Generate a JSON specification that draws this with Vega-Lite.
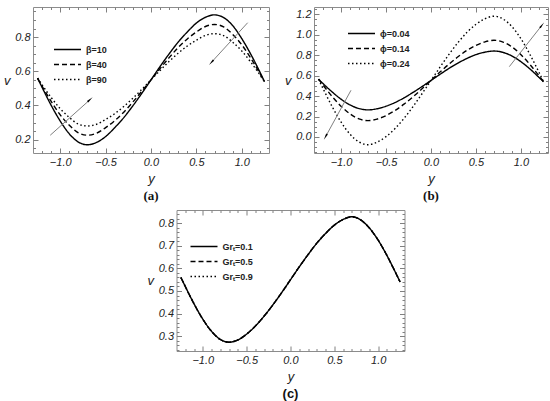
{
  "$schema": "https://vega.github.io/schema/vega-lite/v6.json",
  "padding": {"left": 3, "top": 6, "right": 0, "bottom": 0},
  "background": "white",
  "config": {
    "view": {"stroke": "#8c8c8c", "strokeWidth": 1},
    "axis": {
      "grid": false, "domain": false, "tickColor": "#808080", "tickWidth": 1,
      "labelFont": "Liberation Sans", "labelFontStyle": "italic", "labelFontSize": 11, "labelColor": "#222",
      "titleFont": "Liberation Sans", "titleFontStyle": "italic", "titleFontWeight": "normal", "titleFontSize": 13, "titleColor": "#222"
    },
    "legend": {
      "symbolType": "stroke", "symbolSize": 729, "symbolStrokeWidth": 1.4, "symbolStrokeColor": "black",
      "labelFont": "Liberation Sans", "labelFontWeight": "bold", "labelFontSize": 9, "labelColor": "#222",
      "labelOffset": 4, "padding": 0, "rowPadding": 0, "clipHeight": 15
    },
    "title": {"font": "Liberation Serif", "fontWeight": "bold", "fontSize": 13, "color": "#111"},
    "line": {"color": "black", "strokeWidth": 1.4}
  },
  "datasets": {
    "a": [
      {"y": -1.25, "v": 0.560, "s": "β=10"}, {"y": -1.2, "v": 0.506, "s": "β=10"}, {"y": -1.1, "v": 0.401, "s": "β=10"}, {"y": -1.0, "v": 0.309, "s": "β=10"}, {"y": -0.9, "v": 0.234, "s": "β=10"}, {"y": -0.8, "v": 0.186, "s": "β=10"}, {"y": -0.7, "v": 0.170, "s": "β=10"}, {"y": -0.6, "v": 0.184, "s": "β=10"}, {"y": -0.5, "v": 0.218, "s": "β=10"}, {"y": -0.4, "v": 0.270, "s": "β=10"}, {"y": -0.3, "v": 0.329, "s": "β=10"}, {"y": -0.2, "v": 0.398, "s": "β=10"}, {"y": -0.1, "v": 0.472, "s": "β=10"}, {"y": 0, "v": 0.550, "s": "β=10"}, {"y": 0.1, "v": 0.628, "s": "β=10"}, {"y": 0.2, "v": 0.702, "s": "β=10"}, {"y": 0.3, "v": 0.771, "s": "β=10"}, {"y": 0.4, "v": 0.830, "s": "β=10"}, {"y": 0.5, "v": 0.882, "s": "β=10"}, {"y": 0.6, "v": 0.916, "s": "β=10"}, {"y": 0.7, "v": 0.930, "s": "β=10"}, {"y": 0.8, "v": 0.914, "s": "β=10"}, {"y": 0.9, "v": 0.867, "s": "β=10"}, {"y": 1.0, "v": 0.791, "s": "β=10"}, {"y": 1.1, "v": 0.699, "s": "β=10"}, {"y": 1.2, "v": 0.595, "s": "β=10"}, {"y": 1.25, "v": 0.540, "s": "β=10"},
      {"y": -1.25, "v": 0.560, "s": "β=40"}, {"y": -1.2, "v": 0.513, "s": "β=40"}, {"y": -1.1, "v": 0.424, "s": "β=40"}, {"y": -1.0, "v": 0.345, "s": "β=40"}, {"y": -0.9, "v": 0.284, "s": "β=40"}, {"y": -0.8, "v": 0.240, "s": "β=40"}, {"y": -0.7, "v": 0.226, "s": "β=40"}, {"y": -0.6, "v": 0.238, "s": "β=40"}, {"y": -0.5, "v": 0.270, "s": "β=40"}, {"y": -0.4, "v": 0.311, "s": "β=40"}, {"y": -0.3, "v": 0.361, "s": "β=40"}, {"y": -0.2, "v": 0.420, "s": "β=40"}, {"y": -0.1, "v": 0.484, "s": "β=40"}, {"y": 0, "v": 0.550, "s": "β=40"}, {"y": 0.1, "v": 0.616, "s": "β=40"}, {"y": 0.2, "v": 0.680, "s": "β=40"}, {"y": 0.3, "v": 0.739, "s": "β=40"}, {"y": 0.4, "v": 0.789, "s": "β=40"}, {"y": 0.5, "v": 0.830, "s": "β=40"}, {"y": 0.6, "v": 0.862, "s": "β=40"}, {"y": 0.7, "v": 0.874, "s": "β=40"}, {"y": 0.8, "v": 0.860, "s": "β=40"}, {"y": 0.9, "v": 0.816, "s": "β=40"}, {"y": 1.0, "v": 0.755, "s": "β=40"}, {"y": 1.1, "v": 0.676, "s": "β=40"}, {"y": 1.2, "v": 0.587, "s": "β=40"}, {"y": 1.25, "v": 0.540, "s": "β=40"},
      {"y": -1.25, "v": 0.560, "s": "β=90"}, {"y": -1.2, "v": 0.521, "s": "β=90"}, {"y": -1.1, "v": 0.447, "s": "β=90"}, {"y": -1.0, "v": 0.381, "s": "β=90"}, {"y": -0.9, "v": 0.330, "s": "β=90"}, {"y": -0.8, "v": 0.291, "s": "β=90"}, {"y": -0.7, "v": 0.280, "s": "β=90"}, {"y": -0.6, "v": 0.290, "s": "β=90"}, {"y": -0.5, "v": 0.318, "s": "β=90"}, {"y": -0.4, "v": 0.352, "s": "β=90"}, {"y": -0.3, "v": 0.394, "s": "β=90"}, {"y": -0.2, "v": 0.442, "s": "β=90"}, {"y": -0.1, "v": 0.495, "s": "β=90"}, {"y": 0, "v": 0.550, "s": "β=90"}, {"y": 0.1, "v": 0.605, "s": "β=90"}, {"y": 0.2, "v": 0.658, "s": "β=90"}, {"y": 0.3, "v": 0.706, "s": "β=90"}, {"y": 0.4, "v": 0.748, "s": "β=90"}, {"y": 0.5, "v": 0.782, "s": "β=90"}, {"y": 0.6, "v": 0.810, "s": "β=90"}, {"y": 0.7, "v": 0.820, "s": "β=90"}, {"y": 0.8, "v": 0.809, "s": "β=90"}, {"y": 0.9, "v": 0.770, "s": "β=90"}, {"y": 1.0, "v": 0.719, "s": "β=90"}, {"y": 1.1, "v": 0.653, "s": "β=90"}, {"y": 1.2, "v": 0.579, "s": "β=90"}, {"y": 1.25, "v": 0.540, "s": "β=90"}
    ],
    "b": [
      {"y": -1.25, "v": 0.566, "s": "ϕ=0.04"}, {"y": -1.2, "v": 0.523, "s": "ϕ=0.04"}, {"y": -1.1, "v": 0.442, "s": "ϕ=0.04"}, {"y": -1.0, "v": 0.370, "s": "ϕ=0.04"}, {"y": -0.9, "v": 0.314, "s": "ϕ=0.04"}, {"y": -0.8, "v": 0.278, "s": "ϕ=0.04"}, {"y": -0.7, "v": 0.265, "s": "ϕ=0.04"}, {"y": -0.6, "v": 0.276, "s": "ϕ=0.04"}, {"y": -0.5, "v": 0.301, "s": "ϕ=0.04"}, {"y": -0.4, "v": 0.337, "s": "ϕ=0.04"}, {"y": -0.3, "v": 0.383, "s": "ϕ=0.04"}, {"y": -0.2, "v": 0.436, "s": "ϕ=0.04"}, {"y": -0.1, "v": 0.493, "s": "ϕ=0.04"}, {"y": 0, "v": 0.553, "s": "ϕ=0.04"}, {"y": 0.1, "v": 0.613, "s": "ϕ=0.04"}, {"y": 0.2, "v": 0.671, "s": "ϕ=0.04"}, {"y": 0.3, "v": 0.723, "s": "ϕ=0.04"}, {"y": 0.4, "v": 0.769, "s": "ϕ=0.04"}, {"y": 0.5, "v": 0.806, "s": "ϕ=0.04"}, {"y": 0.6, "v": 0.830, "s": "ϕ=0.04"}, {"y": 0.7, "v": 0.841, "s": "ϕ=0.04"}, {"y": 0.8, "v": 0.828, "s": "ϕ=0.04"}, {"y": 0.9, "v": 0.792, "s": "ϕ=0.04"}, {"y": 1.0, "v": 0.736, "s": "ϕ=0.04"}, {"y": 1.1, "v": 0.665, "s": "ϕ=0.04"}, {"y": 1.2, "v": 0.583, "s": "ϕ=0.04"}, {"y": 1.25, "v": 0.541, "s": "ϕ=0.04"},
      {"y": -1.25, "v": 0.566, "s": "ϕ=0.14"}, {"y": -1.2, "v": 0.508, "s": "ϕ=0.14"}, {"y": -1.1, "v": 0.398, "s": "ϕ=0.14"}, {"y": -1.0, "v": 0.301, "s": "ϕ=0.14"}, {"y": -0.9, "v": 0.226, "s": "ϕ=0.14"}, {"y": -0.8, "v": 0.177, "s": "ϕ=0.14"}, {"y": -0.7, "v": 0.160, "s": "ϕ=0.14"}, {"y": -0.6, "v": 0.175, "s": "ϕ=0.14"}, {"y": -0.5, "v": 0.209, "s": "ϕ=0.14"}, {"y": -0.4, "v": 0.259, "s": "ϕ=0.14"}, {"y": -0.3, "v": 0.321, "s": "ϕ=0.14"}, {"y": -0.2, "v": 0.393, "s": "ϕ=0.14"}, {"y": -0.1, "v": 0.471, "s": "ϕ=0.14"}, {"y": 0, "v": 0.553, "s": "ϕ=0.14"}, {"y": 0.1, "v": 0.635, "s": "ϕ=0.14"}, {"y": 0.2, "v": 0.713, "s": "ϕ=0.14"}, {"y": 0.3, "v": 0.785, "s": "ϕ=0.14"}, {"y": 0.4, "v": 0.848, "s": "ϕ=0.14"}, {"y": 0.5, "v": 0.897, "s": "ϕ=0.14"}, {"y": 0.6, "v": 0.931, "s": "ϕ=0.14"}, {"y": 0.7, "v": 0.946, "s": "ϕ=0.14"}, {"y": 0.8, "v": 0.929, "s": "ϕ=0.14"}, {"y": 0.9, "v": 0.881, "s": "ϕ=0.14"}, {"y": 1.0, "v": 0.805, "s": "ϕ=0.14"}, {"y": 1.1, "v": 0.708, "s": "ϕ=0.14"}, {"y": 1.2, "v": 0.598, "s": "ϕ=0.14"}, {"y": 1.25, "v": 0.541, "s": "ϕ=0.14"},
      {"y": -1.25, "v": 0.566, "s": "ϕ=0.24"}, {"y": -1.2, "v": 0.475, "s": "ϕ=0.24"}, {"y": -1.1, "v": 0.300, "s": "ϕ=0.24"}, {"y": -1.0, "v": 0.147, "s": "ϕ=0.24"}, {"y": -0.9, "v": 0.027, "s": "ϕ=0.24"}, {"y": -0.8, "v": -0.049, "s": "ϕ=0.24"}, {"y": -0.7, "v": -0.076, "s": "ϕ=0.24"}, {"y": -0.6, "v": -0.051, "s": "ϕ=0.24"}, {"y": -0.5, "v": 0.003, "s": "ϕ=0.24"}, {"y": -0.4, "v": 0.082, "s": "ϕ=0.24"}, {"y": -0.3, "v": 0.182, "s": "ϕ=0.24"}, {"y": -0.2, "v": 0.297, "s": "ϕ=0.24"}, {"y": -0.1, "v": 0.423, "s": "ϕ=0.24"}, {"y": 0, "v": 0.553, "s": "ϕ=0.24"}, {"y": 0.1, "v": 0.683, "s": "ϕ=0.24"}, {"y": 0.2, "v": 0.809, "s": "ϕ=0.24"}, {"y": 0.3, "v": 0.924, "s": "ϕ=0.24"}, {"y": 0.4, "v": 1.024, "s": "ϕ=0.24"}, {"y": 0.5, "v": 1.103, "s": "ϕ=0.24"}, {"y": 0.6, "v": 1.157, "s": "ϕ=0.24"}, {"y": 0.7, "v": 1.182, "s": "ϕ=0.24"}, {"y": 0.8, "v": 1.155, "s": "ϕ=0.24"}, {"y": 0.9, "v": 1.079, "s": "ϕ=0.24"}, {"y": 1.0, "v": 0.960, "s": "ϕ=0.24"}, {"y": 1.1, "v": 0.806, "s": "ϕ=0.24"}, {"y": 1.2, "v": 0.632, "s": "ϕ=0.24"}, {"y": 1.25, "v": 0.541, "s": "ϕ=0.24"}
    ],
    "c": [
      {"y": -1.25, "v": 0.560, "s": "Grₜ=0.1"}, {"y": -1.2, "v": 0.520, "s": "Grₜ=0.1"}, {"y": -1.1, "v": 0.443, "s": "Grₜ=0.1"}, {"y": -1.0, "v": 0.375, "s": "Grₜ=0.1"}, {"y": -0.9, "v": 0.321, "s": "Grₜ=0.1"}, {"y": -0.8, "v": 0.285, "s": "Grₜ=0.1"}, {"y": -0.7, "v": 0.273, "s": "Grₜ=0.1"}, {"y": -0.6, "v": 0.283, "s": "Grₜ=0.1"}, {"y": -0.5, "v": 0.309, "s": "Grₜ=0.1"}, {"y": -0.4, "v": 0.345, "s": "Grₜ=0.1"}, {"y": -0.3, "v": 0.389, "s": "Grₜ=0.1"}, {"y": -0.2, "v": 0.439, "s": "Grₜ=0.1"}, {"y": -0.1, "v": 0.493, "s": "Grₜ=0.1"}, {"y": 0, "v": 0.550, "s": "Grₜ=0.1"}, {"y": 0.1, "v": 0.607, "s": "Grₜ=0.1"}, {"y": 0.2, "v": 0.661, "s": "Grₜ=0.1"}, {"y": 0.3, "v": 0.712, "s": "Grₜ=0.1"}, {"y": 0.4, "v": 0.755, "s": "Grₜ=0.1"}, {"y": 0.5, "v": 0.792, "s": "Grₜ=0.1"}, {"y": 0.6, "v": 0.817, "s": "Grₜ=0.1"}, {"y": 0.7, "v": 0.829, "s": "Grₜ=0.1"}, {"y": 0.8, "v": 0.815, "s": "Grₜ=0.1"}, {"y": 0.9, "v": 0.779, "s": "Grₜ=0.1"}, {"y": 1.0, "v": 0.725, "s": "Grₜ=0.1"}, {"y": 1.1, "v": 0.657, "s": "Grₜ=0.1"}, {"y": 1.2, "v": 0.580, "s": "Grₜ=0.1"}, {"y": 1.25, "v": 0.540, "s": "Grₜ=0.1"},
      {"y": -1.25, "v": 0.560, "s": "Grₜ=0.5"}, {"y": -1.2, "v": 0.520, "s": "Grₜ=0.5"}, {"y": -1.1, "v": 0.443, "s": "Grₜ=0.5"}, {"y": -1.0, "v": 0.375, "s": "Grₜ=0.5"}, {"y": -0.9, "v": 0.321, "s": "Grₜ=0.5"}, {"y": -0.8, "v": 0.285, "s": "Grₜ=0.5"}, {"y": -0.7, "v": 0.273, "s": "Grₜ=0.5"}, {"y": -0.6, "v": 0.283, "s": "Grₜ=0.5"}, {"y": -0.5, "v": 0.309, "s": "Grₜ=0.5"}, {"y": -0.4, "v": 0.345, "s": "Grₜ=0.5"}, {"y": -0.3, "v": 0.389, "s": "Grₜ=0.5"}, {"y": -0.2, "v": 0.439, "s": "Grₜ=0.5"}, {"y": -0.1, "v": 0.493, "s": "Grₜ=0.5"}, {"y": 0, "v": 0.550, "s": "Grₜ=0.5"}, {"y": 0.1, "v": 0.607, "s": "Grₜ=0.5"}, {"y": 0.2, "v": 0.661, "s": "Grₜ=0.5"}, {"y": 0.3, "v": 0.712, "s": "Grₜ=0.5"}, {"y": 0.4, "v": 0.755, "s": "Grₜ=0.5"}, {"y": 0.5, "v": 0.792, "s": "Grₜ=0.5"}, {"y": 0.6, "v": 0.817, "s": "Grₜ=0.5"}, {"y": 0.7, "v": 0.829, "s": "Grₜ=0.5"}, {"y": 0.8, "v": 0.815, "s": "Grₜ=0.5"}, {"y": 0.9, "v": 0.779, "s": "Grₜ=0.5"}, {"y": 1.0, "v": 0.725, "s": "Grₜ=0.5"}, {"y": 1.1, "v": 0.657, "s": "Grₜ=0.5"}, {"y": 1.2, "v": 0.580, "s": "Grₜ=0.5"}, {"y": 1.25, "v": 0.540, "s": "Grₜ=0.5"},
      {"y": -1.25, "v": 0.560, "s": "Grₜ=0.9"}, {"y": -1.2, "v": 0.520, "s": "Grₜ=0.9"}, {"y": -1.1, "v": 0.443, "s": "Grₜ=0.9"}, {"y": -1.0, "v": 0.375, "s": "Grₜ=0.9"}, {"y": -0.9, "v": 0.321, "s": "Grₜ=0.9"}, {"y": -0.8, "v": 0.285, "s": "Grₜ=0.9"}, {"y": -0.7, "v": 0.273, "s": "Grₜ=0.9"}, {"y": -0.6, "v": 0.283, "s": "Grₜ=0.9"}, {"y": -0.5, "v": 0.309, "s": "Grₜ=0.9"}, {"y": -0.4, "v": 0.345, "s": "Grₜ=0.9"}, {"y": -0.3, "v": 0.389, "s": "Grₜ=0.9"}, {"y": -0.2, "v": 0.439, "s": "Grₜ=0.9"}, {"y": -0.1, "v": 0.493, "s": "Grₜ=0.9"}, {"y": 0, "v": 0.550, "s": "Grₜ=0.9"}, {"y": 0.1, "v": 0.607, "s": "Grₜ=0.9"}, {"y": 0.2, "v": 0.661, "s": "Grₜ=0.9"}, {"y": 0.3, "v": 0.712, "s": "Grₜ=0.9"}, {"y": 0.4, "v": 0.755, "s": "Grₜ=0.9"}, {"y": 0.5, "v": 0.792, "s": "Grₜ=0.9"}, {"y": 0.6, "v": 0.817, "s": "Grₜ=0.9"}, {"y": 0.7, "v": 0.829, "s": "Grₜ=0.9"}, {"y": 0.8, "v": 0.815, "s": "Grₜ=0.9"}, {"y": 0.9, "v": 0.779, "s": "Grₜ=0.9"}, {"y": 1.0, "v": 0.725, "s": "Grₜ=0.9"}, {"y": 1.1, "v": 0.657, "s": "Grₜ=0.9"}, {"y": 1.2, "v": 0.580, "s": "Grₜ=0.9"}, {"y": 1.25, "v": 0.540, "s": "Grₜ=0.9"}
    ],
    "arrows_a": [
      {"k": 1, "ya": -1.11, "va": 0.226, "yb": -0.68, "vb": 0.43},
      {"k": 2, "ya": 1.065, "va": 0.884, "yb": 0.672, "vb": 0.656}
    ],
    "arrows_b": [
      {"k": 1, "ya": -0.889, "va": 0.457, "yb": -1.167, "vb": 0.01},
      {"k": 2, "ya": 0.87, "va": 0.688, "yb": 1.226, "vb": 1.086}
    ]
  },
  "center": true,
  "spacing": 5,
  "resolve": {"scale": {"strokeDash": "independent"}, "legend": {"strokeDash": "independent"}},
  "vconcat": [
    {
      "spacing": 14,
      "resolve": {"scale": {"strokeDash": "independent"}, "legend": {"strokeDash": "independent"}},
      "hconcat": [
        {
          "width": 236, "height": 146,
          "title": {"text": "(a)", "orient": "bottom", "offset": 5},
          "data": {"name": "a"},
          "resolve": {"axis": {"x": "independent", "y": "independent"}},
          "layer": [
            {
              "mark": {"type": "line", "interpolate": "monotone"},
              "encoding": {
                "x": {"field": "y", "type": "quantitative", "scale": {"domain": [-1.3, 1.3], "nice": false, "zero": false},
                  "axis": {"orient": "bottom", "values": [-1, -0.5, 0, 0.5, 1], "format": ".1f", "tickSize": -5, "labelPadding": 8, "title": "y", "titlePadding": 5}},
                "y": {"field": "v", "type": "quantitative", "scale": {"domain": [0.122, 0.976], "nice": false, "zero": false},
                  "axis": {"orient": "left", "values": [0.2, 0.4, 0.6, 0.8], "format": ".1f", "tickSize": -5, "labelPadding": 8, "minExtent": 20, "maxExtent": 20, "title": "v", "titleAngle": 0, "titleAlign": "right", "titleBaseline": "middle", "titlePadding": 3}},
                "strokeDash": {"field": "s", "type": "nominal", "scale": {"domain": ["β=10", "β=40", "β=90"], "range": [[1, 0], [5, 3], [1.5, 2.5]]},
                  "legend": {"orient": "none", "legendX": 20, "legendY": 35, "title": null}}
              }
            },
            {
              "mark": {"type": "line", "opacity": 0},
              "encoding": {
                "x": {"field": "y", "type": "quantitative", "axis": {"orient": "top", "labels": false, "title": null, "tickSize": -5, "values": [-1, -0.5, 0, 0.5, 1]}},
                "y": {"field": "v", "type": "quantitative", "axis": {"orient": "right", "labels": false, "title": null, "tickSize": -5, "values": [0.2, 0.4, 0.6, 0.8]}}
              }
            },
            {
              "mark": {"type": "line", "opacity": 0},
              "encoding": {
                "x": {"field": "y", "type": "quantitative", "axis": {"orient": "top", "labels": false, "title": null, "tickSize": -2.5,
                  "values": [-1.2, -1.1, -0.9, -0.8, -0.7, -0.6, -0.4, -0.3, -0.2, -0.1, 0.1, 0.2, 0.3, 0.4, 0.6, 0.7, 0.8, 0.9, 1.1, 1.2]}},
                "y": {"field": "v", "type": "quantitative", "axis": {"orient": "right", "labels": false, "title": null, "tickSize": -2.5,
                  "values": [0.15, 0.25, 0.3, 0.35, 0.45, 0.5, 0.55, 0.65, 0.7, 0.75, 0.85, 0.9, 0.95]}}
              }
            },
            {
              "mark": {"type": "line", "opacity": 0},
              "encoding": {
                "x": {"field": "y", "type": "quantitative", "axis": {"orient": "bottom", "labels": false, "title": null, "tickSize": -2.5,
                  "values": [-1.2, -1.1, -0.9, -0.8, -0.7, -0.6, -0.4, -0.3, -0.2, -0.1, 0.1, 0.2, 0.3, 0.4, 0.6, 0.7, 0.8, 0.9, 1.1, 1.2]}},
                "y": {"field": "v", "type": "quantitative", "axis": {"orient": "left", "labels": false, "title": null, "tickSize": -2.5,
                  "values": [0.15, 0.25, 0.3, 0.35, 0.45, 0.5, 0.55, 0.65, 0.7, 0.75, 0.85, 0.9, 0.95]}}
              }
            },
            {
              "data": {"name": "arrows_a"},
              "mark": {"type": "rule", "color": "#808080", "strokeWidth": 1},
              "encoding": {
                "x": {"field": "ya", "type": "quantitative", "axis": null},
                "y": {"field": "va", "type": "quantitative", "axis": null},
                "x2": {"field": "yb"},
                "y2": {"field": "vb"}
              }
            },
            {
              "data": {"name": "arrows_a"},
              "transform": [{"filter": "datum.k == 1"}],
              "mark": {"type": "point", "shape": "wedge", "filled": true, "color": "black", "opacity": 1, "size": 60, "angle": 48},
              "encoding": {
                "x": {"field": "yb", "type": "quantitative", "axis": null},
                "y": {"field": "vb", "type": "quantitative", "axis": null}
              }
            },
            {
              "data": {"name": "arrows_a"},
              "transform": [{"filter": "datum.k == 2"}],
              "mark": {"type": "point", "shape": "wedge", "filled": true, "color": "black", "opacity": 1, "size": 60, "angle": 222},
              "encoding": {
                "x": {"field": "yb", "type": "quantitative", "axis": null},
                "y": {"field": "vb", "type": "quantitative", "axis": null}
              }
            }
          ]
        },
        {
          "width": 234, "height": 146,
          "title": {"text": "(b)", "orient": "bottom", "offset": 5},
          "data": {"name": "b"},
          "resolve": {"axis": {"x": "independent", "y": "independent"}},
          "layer": [
            {
              "mark": {"type": "line", "interpolate": "monotone"},
              "encoding": {
                "x": {"field": "y", "type": "quantitative", "scale": {"domain": [-1.3, 1.3], "nice": false, "zero": false},
                  "axis": {"orient": "bottom", "values": [-1, -0.5, 0, 0.5, 1], "format": ".1f", "tickSize": -5, "labelPadding": 8, "title": "y", "titlePadding": 5}},
                "y": {"field": "v", "type": "quantitative", "scale": {"domain": [-0.157, 1.272], "nice": false, "zero": false},
                  "axis": {"orient": "left", "values": [0, 0.2, 0.4, 0.6, 0.8, 1, 1.2], "format": ".1f", "tickSize": -5, "labelPadding": 8, "minExtent": 20, "maxExtent": 20, "title": "v", "titleAngle": 0, "titleAlign": "right", "titleBaseline": "middle", "titlePadding": 3}},
                "strokeDash": {"field": "s", "type": "nominal", "scale": {"domain": ["ϕ=0.04", "ϕ=0.14", "ϕ=0.24"], "range": [[1, 0], [5, 3], [1.5, 2.5]]},
                  "legend": {"orient": "none", "legendX": 33, "legendY": 19, "title": null}}
              }
            },
            {
              "mark": {"type": "line", "opacity": 0},
              "encoding": {
                "x": {"field": "y", "type": "quantitative", "axis": {"orient": "top", "labels": false, "title": null, "tickSize": -5, "values": [-1, -0.5, 0, 0.5, 1]}},
                "y": {"field": "v", "type": "quantitative", "axis": {"orient": "right", "labels": false, "title": null, "tickSize": -5, "values": [0, 0.2, 0.4, 0.6, 0.8, 1, 1.2]}}
              }
            },
            {
              "mark": {"type": "line", "opacity": 0},
              "encoding": {
                "x": {"field": "y", "type": "quantitative", "axis": {"orient": "top", "labels": false, "title": null, "tickSize": -2.5,
                  "values": [-1.2, -1.1, -0.9, -0.8, -0.7, -0.6, -0.4, -0.3, -0.2, -0.1, 0.1, 0.2, 0.3, 0.4, 0.6, 0.7, 0.8, 0.9, 1.1, 1.2]}},
                "y": {"field": "v", "type": "quantitative", "axis": {"orient": "right", "labels": false, "title": null, "tickSize": -2.5,
                  "values": [-0.15, -0.1, -0.05, 0.05, 0.1, 0.15, 0.25, 0.3, 0.35, 0.45, 0.5, 0.55, 0.65, 0.7, 0.75, 0.85, 0.9, 0.95, 1.05, 1.1, 1.15, 1.25]}}
              }
            },
            {
              "mark": {"type": "line", "opacity": 0},
              "encoding": {
                "x": {"field": "y", "type": "quantitative", "axis": {"orient": "bottom", "labels": false, "title": null, "tickSize": -2.5,
                  "values": [-1.2, -1.1, -0.9, -0.8, -0.7, -0.6, -0.4, -0.3, -0.2, -0.1, 0.1, 0.2, 0.3, 0.4, 0.6, 0.7, 0.8, 0.9, 1.1, 1.2]}},
                "y": {"field": "v", "type": "quantitative", "axis": {"orient": "left", "labels": false, "title": null, "tickSize": -2.5,
                  "values": [-0.15, -0.1, -0.05, 0.05, 0.1, 0.15, 0.25, 0.3, 0.35, 0.45, 0.5, 0.55, 0.65, 0.7, 0.75, 0.85, 0.9, 0.95, 1.05, 1.1, 1.15, 1.25]}}
              }
            },
            {
              "data": {"name": "arrows_b"},
              "mark": {"type": "rule", "color": "#808080", "strokeWidth": 1},
              "encoding": {
                "x": {"field": "ya", "type": "quantitative", "axis": null},
                "y": {"field": "va", "type": "quantitative", "axis": null},
                "x2": {"field": "yb"},
                "y2": {"field": "vb"}
              }
            },
            {
              "data": {"name": "arrows_b"},
              "transform": [{"filter": "datum.k == 1"}],
              "mark": {"type": "point", "shape": "wedge", "filled": true, "color": "black", "opacity": 1, "size": 60, "angle": 209},
              "encoding": {
                "x": {"field": "yb", "type": "quantitative", "axis": null},
                "y": {"field": "vb", "type": "quantitative", "axis": null}
              }
            },
            {
              "data": {"name": "arrows_b"},
              "transform": [{"filter": "datum.k == 2"}],
              "mark": {"type": "point", "shape": "wedge", "filled": true, "color": "black", "opacity": 1, "size": 60, "angle": 38},
              "encoding": {
                "x": {"field": "yb", "type": "quantitative", "axis": null},
                "y": {"field": "vb", "type": "quantitative", "axis": null}
              }
            }
          ]
        }
      ]
    },
    {
      "width": 228, "height": 141,
      "title": {"text": "(c)", "orient": "bottom", "offset": 5, "font": "Liberation Sans"},
      "data": {"name": "c"},
      "resolve": {"axis": {"x": "independent", "y": "independent"}},
      "layer": [
        {
          "mark": {"type": "line", "interpolate": "monotone"},
          "encoding": {
            "x": {"field": "y", "type": "quantitative", "scale": {"domain": [-1.3, 1.3], "nice": false, "zero": false},
              "axis": {"orient": "bottom", "values": [-1, -0.5, 0, 0.5, 1], "format": ".1f", "tickSize": -5, "labelPadding": 8, "title": "y", "titlePadding": 5}},
            "y": {"field": "v", "type": "quantitative", "scale": {"domain": [0.234, 0.859], "nice": false, "zero": false},
              "axis": {"orient": "left", "values": [0.3, 0.4, 0.5, 0.6, 0.7, 0.8], "format": ".1f", "tickSize": -5, "labelPadding": 8, "minExtent": 20, "maxExtent": 20, "title": "v", "titleAngle": 0, "titleAlign": "right", "titleBaseline": "middle", "titlePadding": 3}},
            "strokeDash": {"field": "s", "type": "nominal", "scale": {"domain": ["Grₜ=0.1", "Grₜ=0.5", "Grₜ=0.9"], "range": [[1, 0], [5, 3], [1.5, 2.5]]},
              "legend": {"orient": "none", "legendX": 13, "legendY": 29, "title": null}}
          }
        },
        {
          "mark": {"type": "line", "opacity": 0},
          "encoding": {
            "x": {"field": "y", "type": "quantitative", "axis": {"orient": "top", "labels": false, "title": null, "tickSize": -5, "values": [-1, -0.5, 0, 0.5, 1]}},
            "y": {"field": "v", "type": "quantitative", "axis": {"orient": "right", "labels": false, "title": null, "tickSize": -5, "values": [0.3, 0.4, 0.5, 0.6, 0.7, 0.8]}}
          }
        },
        {
          "mark": {"type": "line", "opacity": 0},
          "encoding": {
            "x": {"field": "y", "type": "quantitative", "axis": {"orient": "top", "labels": false, "title": null, "tickSize": -2.5,
              "values": [-1.2, -1.1, -0.9, -0.8, -0.7, -0.6, -0.4, -0.3, -0.2, -0.1, 0.1, 0.2, 0.3, 0.4, 0.6, 0.7, 0.8, 0.9, 1.1, 1.2]}},
            "y": {"field": "v", "type": "quantitative", "axis": {"orient": "right", "labels": false, "title": null, "tickSize": -2.5,
              "values": [0.24, 0.26, 0.28, 0.32, 0.34, 0.36, 0.38, 0.42, 0.44, 0.46, 0.48, 0.52, 0.54, 0.56, 0.58, 0.62, 0.64, 0.66, 0.68, 0.72, 0.74, 0.76, 0.78, 0.82, 0.84]}}
          }
        },
        {
          "mark": {"type": "line", "opacity": 0},
          "encoding": {
            "x": {"field": "y", "type": "quantitative", "axis": {"orient": "bottom", "labels": false, "title": null, "tickSize": -2.5,
              "values": [-1.2, -1.1, -0.9, -0.8, -0.7, -0.6, -0.4, -0.3, -0.2, -0.1, 0.1, 0.2, 0.3, 0.4, 0.6, 0.7, 0.8, 0.9, 1.1, 1.2]}},
            "y": {"field": "v", "type": "quantitative", "axis": {"orient": "left", "labels": false, "title": null, "tickSize": -2.5,
              "values": [0.24, 0.26, 0.28, 0.32, 0.34, 0.36, 0.38, 0.42, 0.44, 0.46, 0.48, 0.52, 0.54, 0.56, 0.58, 0.62, 0.64, 0.66, 0.68, 0.72, 0.74, 0.76, 0.78, 0.82, 0.84]}}
          }
        }
      ]
    }
  ]
}
